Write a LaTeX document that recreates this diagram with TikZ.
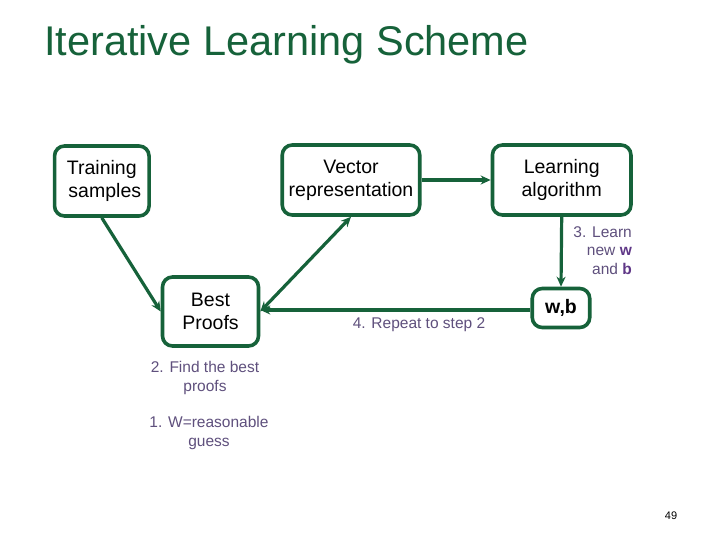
\documentclass[tikz,border=0pt]{standalone}
\usepackage{fontspec}
\setmainfont{Liberation Sans}
\usetikzlibrary{arrows.meta}
\definecolor{dgreen}{RGB}{22,98,58}
\definecolor{lblcol}{RGB}{95,80,125}
\definecolor{boldcol}{RGB}{95,55,135}
\tikzset{
  stepbox/.style={draw=dgreen, line width=3.6bp, rounded corners=10bp, fill=white,
    inner sep=0pt, align=center, font=\fontsize{19.5bp}{23bp}\selectfont},
  conn/.style={draw=dgreen, line width=3.2bp, -{Stealth[length=10bp,width=9bp]}},
  lbl/.style={text=lblcol, inner sep=0pt, font=\fontsize{15.5bp}{18.5bp}\selectfont},
}
\begin{document}
\begin{tikzpicture}[x=1bp,y=-1bp]
\useasboundingbox[fill=white] (0,0) rectangle (720,540);
\node[text=dgreen, anchor=base west, inner sep=0pt, font=\fontsize{41.5bp}{48bp}\selectfont] (title) at (44,56) {Iterative Learning Scheme};

\node[stepbox, minimum width=94.5bp, minimum height=70bp] (train) at (101.8,181) {Training\hspace{5bp}\\ \hspace{6bp}samples};
\node[stepbox, minimum width=137.5bp, minimum height=70bp] (vec) at (351,180) {Vector\hspace{6bp}\\ representation};
\node[stepbox, minimum width=138.5bp, minimum height=70bp] (learn) at (561.7,180) {Learning\hspace{6bp}\\ algorithm};
\node[stepbox, minimum width=96bp, minimum height=69bp] (bp) at (210.5,311.5) {Best\hspace{5bp}\\ Proofs};
\node[stepbox, minimum width=57.5bp, minimum height=39bp, font=\fontsize{19.5bp}{23bp}\selectfont\bfseries] (wb) at (561,308) {w,b};

\draw[conn] (train.south) -- (bp.west);
\draw[conn, {Stealth[length=10bp,width=9bp]}-{Stealth[length=10bp,width=9bp]}] (bp.east) -- (vec.south);
\draw[conn] (wb.west |- 0,310) -- (bp.east |- 0,310);
\draw[conn] (vec.east) -- (learn.west);
\draw[conn] (learn.south) -- (wb.north);

\node[lbl, align=right, anchor=north east] (l3) at (632,226) {3. Learn\\ new \textbf{\textcolor{boldcol}{w}}\\ and \textbf{\textcolor{boldcol}{b}}};
\node[lbl] (l4) at (419,325) {4. Repeat to step 2};
\node[lbl, align=center] (l2) at (205,378) {2. Find the best\\ proofs};
\node[lbl, align=center] (l1) at (209,433) {1. W=reasonable\\ guess};
\node[inner sep=0pt, font=\fontsize{11bp}{13bp}\selectfont] (pg) at (671,516) {49};
\end{tikzpicture}
\end{document}
